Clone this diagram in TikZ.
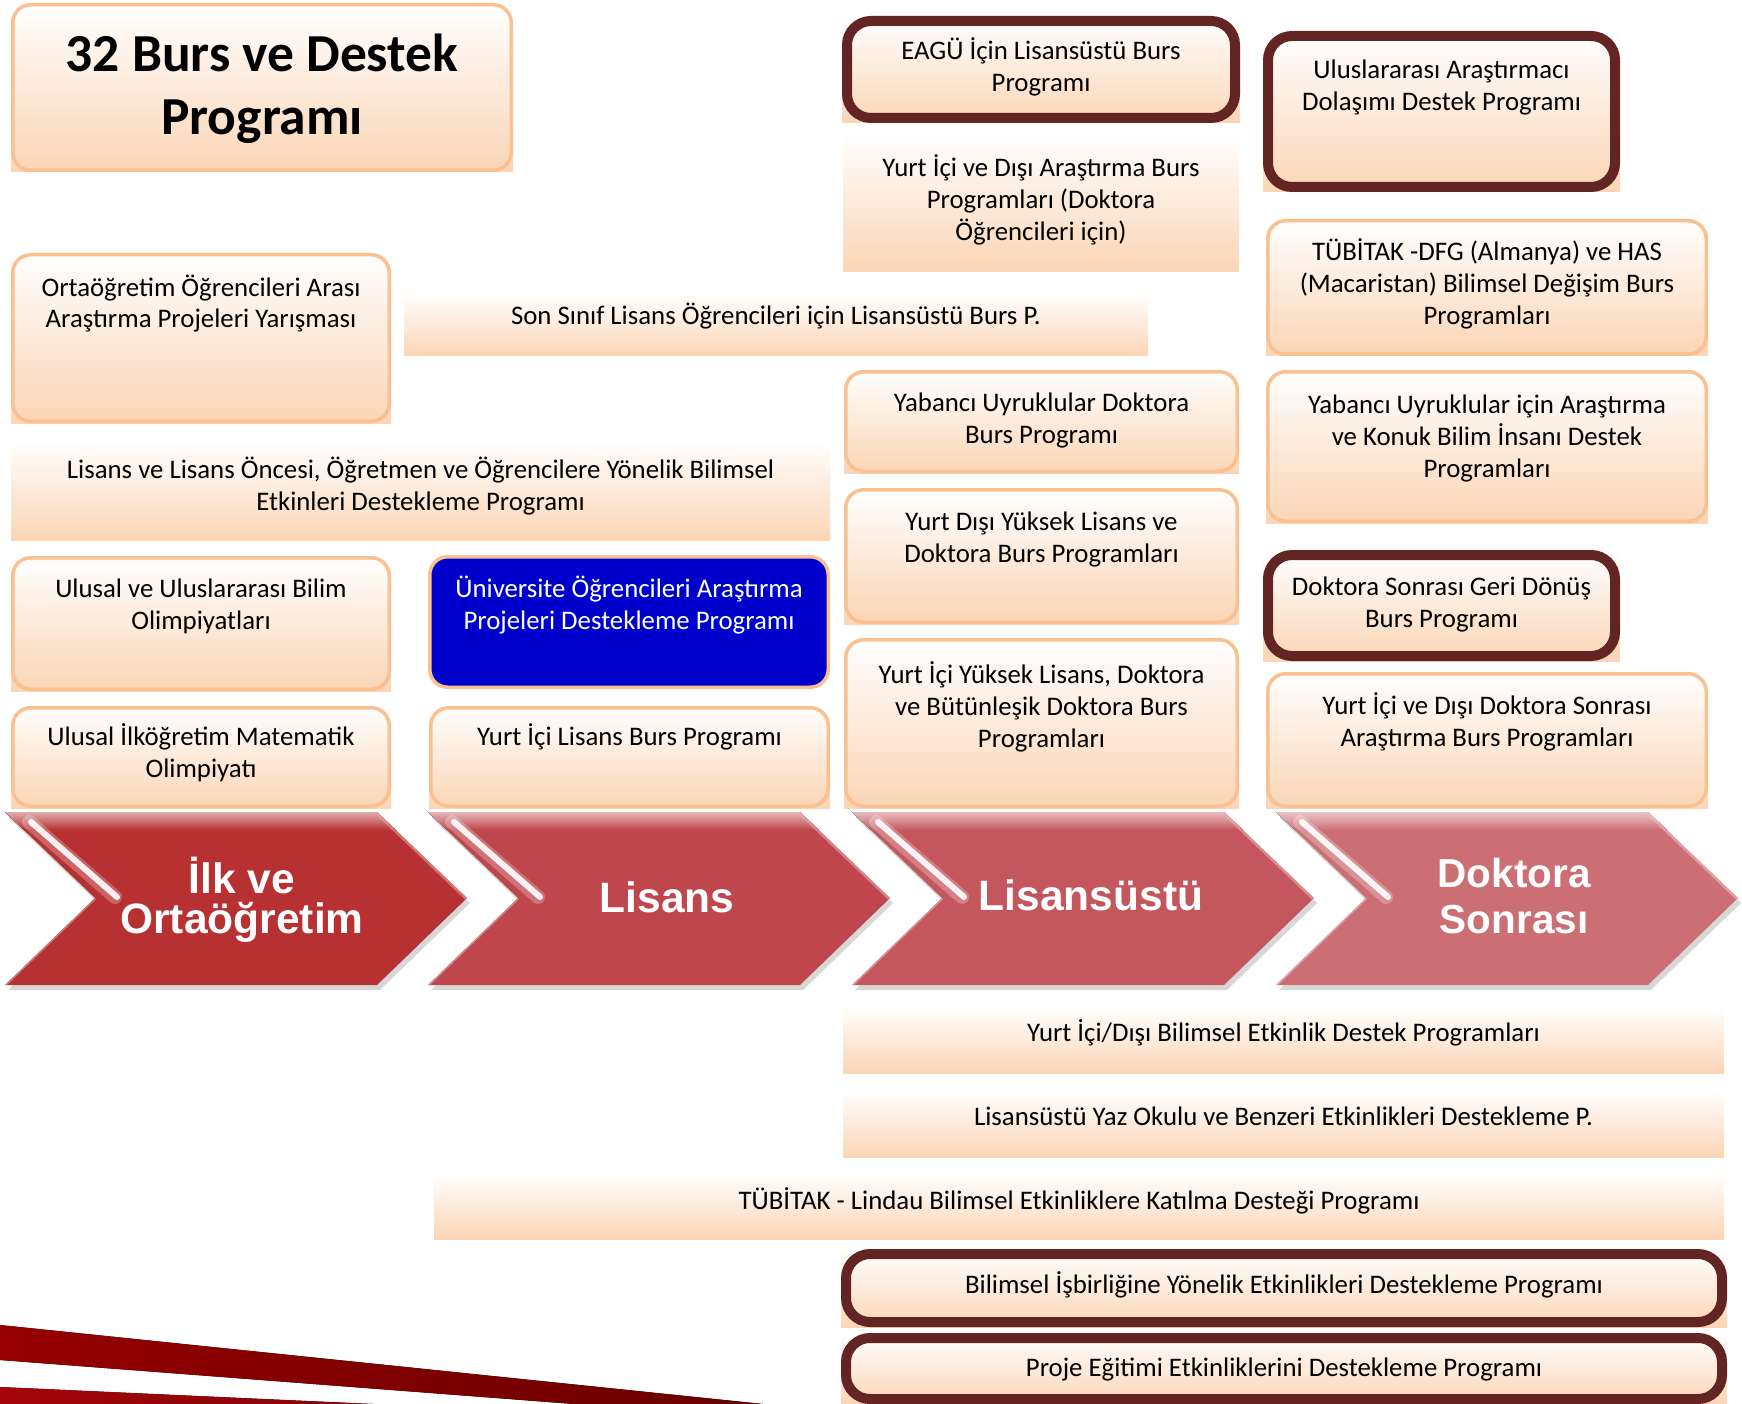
\documentclass[tikz,border=0pt]{standalone}
\usepackage{fontspec}
\setmainfont{Carlito}
\newfontfamily\chevfont{Liberation Sans}
\definecolor{peach}{RGB}{251,213,181}
\definecolor{bordlt}{RGB}{250,192,144}
\definecolor{bordk}{RGB}{99,37,35}
\definecolor{ublue}{RGB}{0,0,204}
\definecolor{chA}{RGB}{183,48,50}
\definecolor{chB}{RGB}{190,70,76}
\definecolor{chC}{RGB}{196,87,93}
\definecolor{chD}{RGB}{204,111,116}
\definecolor{swdark}{RGB}{105,0,0}
\definecolor{swred}{RGB}{165,5,10}
\newcommand\mytop{\rule{0pt}{22pt}}
\tikzset{
  boxfill/.style={top color=white, bottom color=peach, draw=none},
  lb/.style={draw=bordlt, line width=3.5pt, rounded corners=18pt, inner sep=0pt, outer sep=0pt},
  db/.style={draw=bordk, line width=10pt, rounded corners=24pt, inner sep=0pt, outer sep=0pt},
  nb/.style={draw=none, line width=0pt, inner sep=0pt, outer sep=0pt},
  boxtext/.style={inner sep=0pt, outer sep=0pt, align=center, font=\fontsize{26.8}{32}\selectfont, text=black},
  chevtext/.style={inner sep=0pt, outer sep=0pt, align=center, text=white, font=\chevfont\bfseries\fontsize{42.5}{40}\selectfont},
}
% name, x1, y1, x2, y2, style, first baseline, text
\newcommand\pbox[8]{%
  \fill[boxfill] (#2,#3) rectangle (#4,#5);
  \node[#6, minimum width={#4pt-#2pt-\pgflinewidth}, minimum height={#5pt-#3pt-\pgflinewidth}] (#1) at ({(#2+#4)/2},{(#3+#5)/2}) {};
  \node[boxtext, anchor=north] (#1-t) at ({(#2+#4)/2},{#7-22}) {\mytop #8};
}
\newcommand\chevpath[1]{(#1,812) -- ({#1+372},812) -- ({#1+462},898) -- ({#1+372},985) -- (#1,985) -- ({#1+90},898) -- cycle}
% left x, colour
\newcommand\chev[2]{%
  \fill[gray!70, opacity=.45, shift={(3,5)}] \chevpath{#1};
  \fill[#2] \chevpath{#1};
  \begin{scope}
    \clip \chevpath{#1};
    \fill[top color=#2!40!white, bottom color=#2] (#1,812) rectangle ({#1+470},830);
    \draw[white, line width=14pt, opacity=.25, line cap=round] ({#1+24},822) -- ({#1+110},897);
    \draw[white, line width=6pt, opacity=.9, line cap=round] ({#1+26},822) -- ({#1+112},897);
    \draw[#2!45!white, line width=5pt, opacity=.6] ({#1+372},812) -- ({#1+462},898);
    \draw[#2!45!white, line width=3pt, opacity=.6] ({#1+90},898) -- (#1,985);
  \end{scope}
}
\begin{document}
\begin{tikzpicture}[x=1pt, y=-1pt]
\useasboundingbox (0,0) rectangle (1742,1404);
\clip (0,0) rectangle (1742,1404);

% bottom-left swoosh
\fill[left color=swdark!70!red, right color=swdark] (0,1325) -- (763,1404) -- (574,1404) -- (0,1360) -- cycle;
\fill[left color=swred, right color=swred!80!black] (0,1387) -- (373,1404) -- (0,1404) -- cycle;

% title
\fill[boxfill] (11,3) rectangle (513,172);
\node[lb, minimum width={502pt-\pgflinewidth}, minimum height={169pt-\pgflinewidth}] (title) at (262,87.5) {};
\node[inner sep=0pt, align=center, font=\bfseries\fontsize{53.5}{63}\selectfont, anchor=north] (title-t) at (262,26) {\rule{0pt}{45pt}32 Burs ve Destek\\Programı};

% column 1
\pbox{ortaogr}{11}{253}{391}{423}{lb}{296}{Ortaöğretim Öğrencileri Arası\\Araştırma Projeleri Yarışması}
\pbox{lisansve}{11}{440}{830}{540}{nb}{478}{Lisans ve Lisans Öncesi, Öğretmen ve Öğrencilere Yönelik Bilimsel\\Etkinleri Destekleme Programı}
\pbox{ulusalbilim}{11}{556}{391}{691}{lb}{597}{Ulusal ve Uluslararası Bilim\\Olimpiyatları}
\pbox{ilkogr}{11}{706}{391}{808}{lb}{745}{Ulusal İlköğretim Matematik\\Olimpiyatı}

% column 2
\pbox{sonsinif}{404}{293}{1148}{356}{nb}{325}{Son Sınıf Lisans Öğrencileri için Lisansüstü Burs P.}
\node[lb, fill=ublue, minimum width={402pt-\pgflinewidth}, minimum height={134pt-\pgflinewidth}] (univ) at (629,622) {};
\node[boxtext, text=white, anchor=north] (univ-t) at (629,575) {\mytop Üniversite Öğrencileri Araştırma\\Projeleri Destekleme Programı};
\pbox{yilisans}{429}{706}{830}{808}{lb}{745}{Yurt İçi Lisans Burs Programı}

% column 3
\pbox{eagu}{842}{16}{1240}{123}{db}{60}{EAGÜ İçin Lisansüstü Burs\\Programı}
\pbox{yidarast}{843}{133}{1239}{272}{nb}{177}{Yurt İçi ve Dışı Araştırma Burs\\Programları (Doktora\\Öğrencileri için)}
\pbox{yabdok}{844}{370}{1239}{473}{lb}{411}{Yabancı Uyruklular Doktora\\Burs Programı}
\pbox{ydyl}{844}{488}{1239}{624}{lb}{530}{Yurt Dışı Yüksek Lisans ve\\Doktora Burs Programları}
\pbox{yiyl}{844}{638}{1239}{808}{lb}{683}{Yurt İçi Yüksek Lisans, Doktora\\ve Bütünleşik Doktora Burs\\Programları}

% column 4
\pbox{uad}{1263}{31}{1620}{192}{db}{79}{Uluslararası Araştırmacı\\Dolaşımı Destek Programı}
\pbox{dfg}{1266}{219}{1708}{356}{lb}{261}{TÜBİTAK -DFG (Almanya) ve HAS\\(Macaristan) Bilimsel Değişim Burs\\Programları}
\pbox{yabarast}{1266}{370}{1708}{523}{lb}{413}{Yabancı Uyruklular için Araştırma\\ve Konuk Bilim İnsanı Destek\\Programları}
\pbox{dsgd}{1263}{550}{1620}{661}{db}{595}{Doktora Sonrası Geri Dönüş\\Burs Programı}
\pbox{yidds}{1266}{672}{1708}{808}{lb}{714}{Yurt İçi ve Dışı Doktora Sonrası\\Araştırma Burs Programları}

% chevrons
\chev{5}{chA}
\chev{428}{chB}
\chev{852}{chC}
\chev{1276}{chD}
\node[chevtext, anchor=north] (ilk) at (242,857) {\rule{0pt}{35pt}İlk ve\\Ortaöğretim};
\node[chevtext, anchor=base] (lisans) at (667,912) {Lisans};
\node[chevtext, anchor=base] (lisansustu) at (1091,910) {Lisansüstü};
\node[chevtext, font=\chevfont\bfseries\fontsize{40.5}{46}\selectfont, anchor=north] (doksonra) at (1514,852) {\rule{0pt}{35pt}Doktora\\Sonrası};

% bottom rows
\pbox{bilet}{843}{1007}{1724}{1073}{nb}{1041}{Yurt İçi/Dışı Bilimsel Etkinlik Destek Programları}
\pbox{yaz}{843}{1090}{1724}{1157}{nb}{1125}{Lisansüstü Yaz Okulu ve Benzeri Etkinlikleri Destekleme P.}
\pbox{lindau}{434}{1173}{1724}{1239}{nb}{1209}{TÜBİTAK - Lindau Bilimsel Etkinliklere Katılma Desteği Programı}
\pbox{bilisb}{841}{1249}{1727}{1327}{db}{1293}{Bilimsel İşbirliğine Yönelik Etkinlikleri Destekleme Programı}
\pbox{proje}{841}{1333}{1727}{1404}{db}{1376}{Proje Eğitimi Etkinliklerini Destekleme Programı}
\end{tikzpicture}
\end{document}
